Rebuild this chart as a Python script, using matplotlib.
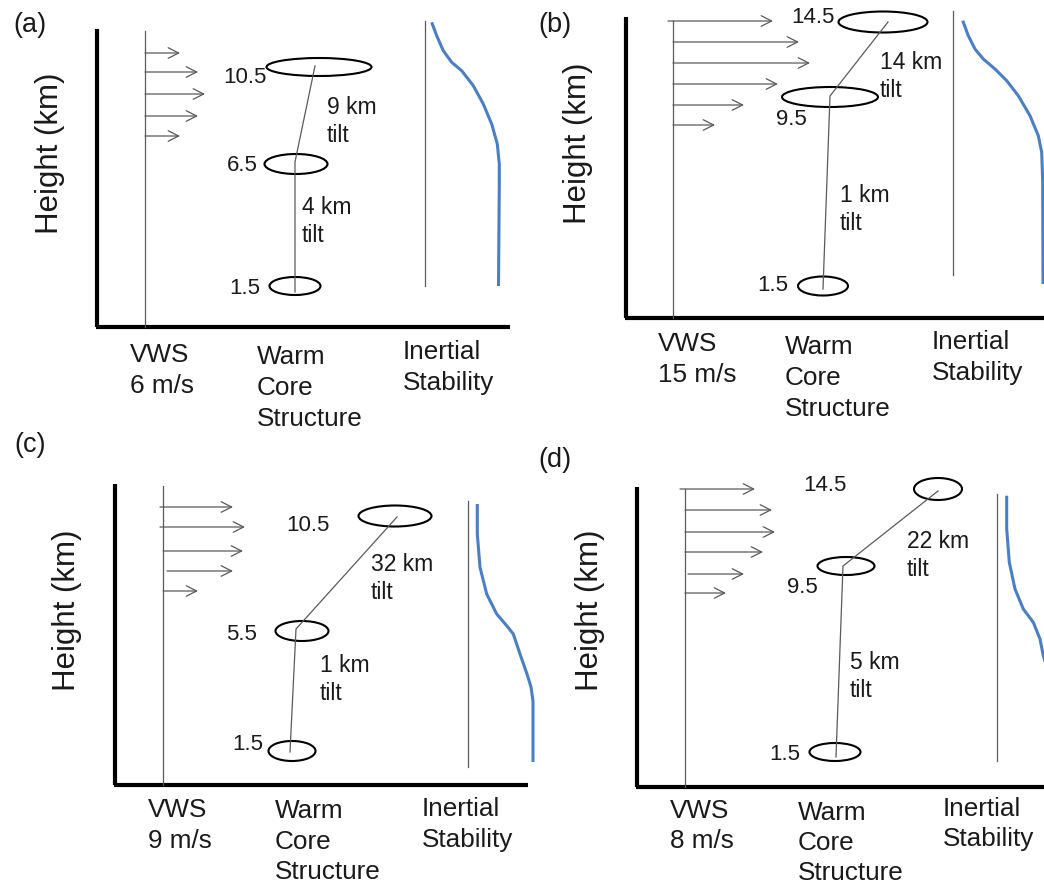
import matplotlib
matplotlib.use("Agg")
import matplotlib.pyplot as plt
from matplotlib.patches import Ellipse

plt.rcParams['font.family'] = ['Liberation Sans', 'DejaVu Sans']

# ---------------- data (schematic units: panel-local, 1 unit = 1 px) ----------------
panel_letters = ['(a)', '(b)', '(c)', '(d)']
vws_speeds = ['6 m/s', '15 m/s', '9 m/s', '8 m/s']
level_labels = [['1.5', '6.5', '10.5'],
                ['1.5', '9.5', '14.5'],
                ['1.5', '5.5', '10.5'],
                ['1.5', '9.5', '14.5']]
tilt_labels = [['4 km', '9 km'],
               ['1 km', '14 km'],
               ['1 km', '32 km'],
               ['5 km', '22 km']]

# warm-core ellipses per level: centre x, centre y, width, height
core_x = [[295, 296, 319], [303, 310, 363], [292, 302, 395], [315, 326, 418]]
core_y = [[287, 165, 68], [287, 98, 23], [312, 192, 77], [313, 127, 50]]
core_w = [[51, 63, 105], [50, 96, 89], [47, 53, 73], [51, 57, 48]]
core_h = [[18, 20, 18], [19, 20, 21], [20, 20, 21], [18, 18, 22]]
# tilt line vertices
tilt_x = [[295, 295, 315], [303, 310, 368], [290, 296, 397], [316, 323, 418]]
tilt_y = [[293, 163, 67], [290, 97, 23], [313, 190, 78], [318, 127, 52]]

# VWS arrows: start x, height, end x
arrow_x0 = [[145] * 5, [148, 153, 153, 153, 153, 153],
            [160, 160, 163, 167, 163], [160, 165, 165, 165, 168, 165]]
arrow_y = [[54, 73, 95, 117, 137], [22, 43, 64, 85, 106, 126],
           [68, 88, 112, 132, 152], [50, 71, 93, 113, 135, 154]]
arrow_x1 = [[180, 198, 205, 198, 180], [253, 279, 290, 258, 224, 195],
            [233, 245, 243, 233, 198], [235, 252, 255, 243, 224, 206]]

# inertial stability profiles
inertial_x = [[431.7, 436.7, 443.3, 451.7, 461.7, 473.3, 483.3, 491.7, 497.3, 499.3, 499.3, 498.5],
              [442.7, 448.3, 455, 463.3, 475, 486.7, 498.3, 510, 518.3, 521.7, 522.7, 523],
              [477.3, 477.3, 480, 486.7, 496.7, 506.7, 513.3, 520, 527, 531, 533, 533],
              [486.7, 486.7, 489.3, 495, 503.3, 513.3, 520, 523.3, 530, 534, 535]]
inertial_y = [[23.3, 36.7, 51.7, 63.3, 71.7, 86.7, 105, 125, 145, 165, 185, 287],
              [21.7, 36.7, 50, 60, 70, 81.7, 96.7, 116.7, 136.7, 153.3, 183, 285],
              [65, 95, 128.3, 155, 175, 186.7, 195, 215, 235, 248, 262, 323],
              [56.7, 90, 123.3, 150, 170, 183.3, 200, 216.7, 240, 260, 322]]

# ---------------- layout (style) ----------------
FIG_W, FIG_H = 1044, 887
panel_origin = [(0, 0), (520, 0), (0, 440), (520, 440)]
panel_size = [(520, 440), (524, 440), (520, 447), (524, 447)]
yaxis_x = [97, 106, 115, 117]
yaxis_top = [30, 18, 45, 48]
xaxis_y = [328, 319, 346, 348]
xaxis_right = [510, 524, 528, 524]
vws_x = [145, 153, 163, 165]
vws_top = [32, 22, 47, 50]
gray_x = [425, 433, 468, 477]
gray_y = [(22, 287), (12, 276), (62, 328), (55, 322)]
letter_pos = [(30, 22), (35, 23), (30, 3), (35, 18)]
height_pos = [(50, 153), (58, 143), (67, 170), (70, 170)]
level_pos = [[(260, 286), (258, 163), (267, 75)],
             [(268, 283), (287, 117), (315, 15)],
             [(263, 302), (257, 192), (330, 83)],
             [(280, 312), (298, 145), (327, 43)]]
tilt_pos = [[(302, 205), (327, 105)],
            [(320, 193), (360, 60)],
            [(320, 223), (371, 122)],
            [(330, 220), (387, 99)]]
bottom_pos = [[(130, 353), (257, 355), (403, 350)],
              [(138, 342), (265, 345), (412, 340)],
              [(148, 368), (275, 369), (422, 367)],
              [(150, 369), (278, 371), (423, 367)]]
line_step = [31, 31, 30.5, 30]

BLUE = '#4a7fc1'
GRAY = '#5a5a5a'
TXT = '#1a1a1a'
FONT_BIG = 22.5
FONT_CAT = 18.8
FONT_TILT = 16.5
FONT_LVL = 16
DY = 2.5  # visual centring of cap height vs. bbox centre

fig = plt.figure(figsize=(FIG_W / 100, FIG_H / 100), dpi=100)

for p in range(4):
    ox, oy = panel_origin[p]
    w, h = panel_size[p]
    ax = fig.add_axes([ox / FIG_W, 1 - (oy + h) / FIG_H, w / FIG_W, h / FIG_H])
    ax.set_xlim(0, w)
    ax.set_ylim(h, 0)
    ax.axis('off')

    # thick axes
    ax.plot([yaxis_x[p], yaxis_x[p]], [yaxis_top[p], xaxis_y[p]], color='black',
            lw=3, solid_capstyle='butt', clip_on=False)
    ax.plot([yaxis_x[p] - 1, xaxis_right[p]], [xaxis_y[p], xaxis_y[p]], color='black',
            lw=3, solid_capstyle='butt', clip_on=False)

    # VWS vertical line and arrows
    ax.plot([vws_x[p], vws_x[p]], [vws_top[p], xaxis_y[p]], color=GRAY, lw=0.9, clip_on=False)
    for x0, y, x1 in zip(arrow_x0[p], arrow_y[p], arrow_x1[p]):
        ax.annotate('', xy=(x1, y), xytext=(x0, y),
                    arrowprops=dict(arrowstyle='->,head_length=0.75,head_width=0.38',
                                    color=GRAY, lw=0.9, shrinkA=0, shrinkB=0),
                    annotation_clip=False)

    # warm-core tilt line and ellipses
    ax.plot(tilt_x[p], tilt_y[p], color=GRAY, lw=0.9, clip_on=False)
    for cx, cy, ew, eh in zip(core_x[p], core_y[p], core_w[p], core_h[p]):
        ax.add_patch(Ellipse((cx, cy), ew, eh, fill=False, ec='black', lw=1.5, clip_on=False))
    for lbl, (lx, ly) in zip(level_labels[p], level_pos[p]):
        ax.text(lx, ly + DY, lbl, ha='right', va='center', fontsize=FONT_LVL, color=TXT)
    for lbl, (tx, ty) in zip(tilt_labels[p], tilt_pos[p]):
        ax.text(tx, ty + DY, lbl, ha='left', va='center', fontsize=FONT_TILT, color=TXT)
        ax.text(tx, ty + 28 + DY, 'tilt', ha='left', va='center', fontsize=FONT_TILT, color=TXT)

    # inertial stability
    ax.plot([gray_x[p], gray_x[p]], list(gray_y[p]), color=GRAY, lw=0.9, clip_on=False)
    ax.plot(inertial_x[p], inertial_y[p], color=BLUE, lw=2.2, clip_on=False,
            solid_capstyle='butt', solid_joinstyle='round')

    # texts
    ax.text(letter_pos[p][0], letter_pos[p][1] + DY, panel_letters[p], ha='center',
            va='center', fontsize=19.5, color=TXT)
    ax.text(*height_pos[p], 'Height (km)', rotation=90, ha='center', va='center',
            fontsize=FONT_BIG, color=TXT)
    cats = [['VWS', vws_speeds[p]], ['Warm', 'Core', 'Structure'], ['Inertial', 'Stability']]
    for lines, (bx, by) in zip(cats, bottom_pos[p]):
        for i, line in enumerate(lines):
            ax.text(bx, by + line_step[p] * i + DY, line, ha='left', va='center',
                    fontsize=FONT_CAT, color=TXT)

fig.savefig('out.png', dpi=100, facecolor='white')
